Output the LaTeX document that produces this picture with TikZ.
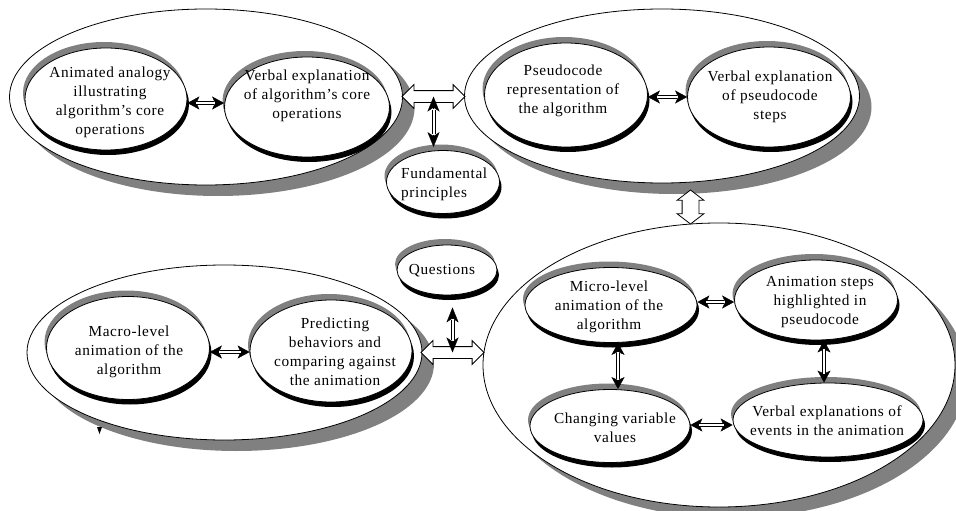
\documentclass[tikz,border=0pt]{standalone}
\usepackage{fontspec}
\setmainfont{Liberation Serif}[LetterSpace=4]
\usetikzlibrary{shapes.geometric,shapes.arrows,shadows,arrows.meta,calc}
\definecolor{shgray}{RGB}{128,128,128}
\begin{document}
\begin{tikzpicture}[x=1pt,y=-1pt,
  outer/.style={ellipse, draw, fill=white, line width=0.8pt, inner sep=0pt,
    general shadow={fill=shgray, shadow xshift=12pt, shadow yshift=-11pt}},
  inner/.style={ellipse, draw, fill=white, line width=0.8pt, inner sep=0pt,
    general shadow={fill=shgray, shadow xshift=-2pt, shadow yshift=6pt},
    general shadow={fill=black, shadow xshift=2pt, shadow yshift=-5pt}},
  txt/.style={align=center, inner sep=0pt, font=\fontsize{15.3}{19}\selectfont},
  hollow/.style={double arrow, draw, fill=white, line width=0.8pt, inner xsep=0pt,
    double arrow tip angle=90, double arrow head indent=0pt},
  sheads/.style={line width=0.4pt,
    {Stealth[length=12pt,width=13pt,inset=3pt]}-{Stealth[length=12pt,width=13pt,inset=3pt]}},
  bheads/.style={line width=0.4pt,
    {Stealth[length=15pt,width=12pt,inset=4pt]}-{Stealth[length=15pt,width=12pt,inset=4pt]}},
  outshaft/.style={line width=4pt, shorten <=#1, shorten >=#1},
  inshaft/.style={white, line width=2pt, shorten <=#1, shorten >=#1}
]
\useasboundingbox (0,0) rectangle (956,511);

% outer groups
\node[outer, minimum width=393pt, minimum height=176pt] (o1) at (206,97) {};
\node[outer, minimum width=395pt, minimum height=174pt] (o2) at (662,96) {};
\node[outer, minimum width=395pt, minimum height=175pt] (o3) at (224.5,352.5) {};
\node[outer, minimum width=472pt, minimum height=284pt] (o4) at (719,365) {};

% inner ellipses
\node[inner, minimum width=162pt, minimum height=102pt] (aa) at (106,99) {};
\node[inner, minimum width=165pt, minimum height=100pt] (ve) at (307,107) {};
\node[inner, minimum width=163pt, minimum height=104pt] (ps) at (566,95) {};
\node[inner, minimum width=163pt, minimum height=100pt] (vp) at (769,97) {};
\node[inner, minimum width=113pt, minimum height=63pt] (fp) at (443,182) {};
\node[inner, minimum width=100pt, minimum height=50pt] (q) at (447,270) {};
\node[inner, minimum width=163pt, minimum height=103pt] (ma) at (128,348) {};
\node[inner, minimum width=162pt, minimum height=102pt] (pr) at (331,351) {};
\node[inner, minimum width=172pt, minimum height=75pt] (mi) at (611,305) {};
\node[inner, minimum width=163pt, minimum height=80pt] (as) at (816,300) {};
\node[inner, minimum width=160pt, minimum height=73pt] (cv) at (610,426) {};
\node[inner, minimum width=190pt, minimum height=74pt] (ev) at (828,420) {};

% texts
\node[txt] (aat) at (110,102.5) {Animated analogy\\illustrating\\algorithm’s core\\operations};
\node[txt] (vet) at (307,96) {Verbal explanation\\of algorithm’s core\\operations};
\node[txt] (pst) at (563,91) {Pseudocode\\representation of\\the algorithm};
\node[txt] (vpt) at (770,97) {Verbal explanation\\of pseudocode\\steps};
\node[txt, align=left, anchor=west] (fpt) at (401,184) {Fundamental\\principles};
\node[txt] (qt) at (442,271) {Questions};
\node[txt] (mat) at (129,352) {Macro-level\\animation of the\\algorithm};
\node[txt] (prt) at (335,351.5) {Predicting\\behaviors and\\comparing against\\the animation};
\node[txt] (mit) at (609,307) {Micro-level\\animation of the\\algorithm};
\node[txt] (ast) at (820,302) {Animation steps\\highlighted in\\pseudocode};
\node[txt] (cvt) at (615,428) {Changing variable\\values};
\node[txt] (evt) at (827,421) {Verbal explanations of\\events in the animation};

% hollow arrows between groups
\node[hollow, minimum height=63pt, inner ysep=5.5pt, double arrow head extend=6pt]
  (h1) at ($(o1.east)!.5!(o2.west)$) {};
\node[hollow, minimum height=63pt, inner ysep=5.5pt, double arrow head extend=6pt]
  (h2) at ($(o3.east)!.5!(o3.east -| o4.west)$) {};
\node[hollow, rotate=90, minimum height=34pt, inner ysep=8pt, double arrow head extend=5pt,
  double arrow tip angle=105] (h3) at ([yshift=-4pt]$(o2.south)!.5!(o4.north)$) {};

% connectors to side nodes
\coordinate (fpn) at ([yshift=3pt]h1.center |- fp.north);
\draw[bheads] (h1.center) -- (fpn);
\draw[outshaft=13pt] (h1.center) -- (fpn);
\draw[inshaft=12pt] (h1.center) -- (fpn);
\coordinate (qs) at ([yshift=-12pt]q.south);
\coordinate (qa) at (qs -| h2.center);
\draw[bheads] (qa) -- (h2.center);
\draw[outshaft=13pt] (qa) -- (h2.center);
\draw[inshaft=12pt] (qa) -- (h2.center);

% small arrow end points
\coordinate (a1) at ([yshift=-4pt]aa.east);  \coordinate (b1) at (a1 -| ve.west);
\coordinate (a2) at ([yshift=-2pt]ps.east);  \coordinate (b2) at (a2 -| vp.west);
\coordinate (a3) at ([yshift=-4pt]ma.east);  \coordinate (b3) at (a3 -| pr.west);
\coordinate (a4) at ([yshift=3pt]mi.east);   \coordinate (b4) at (a4 -| as.west);
\coordinate (a5) at ([yshift=1pt]cv.east);   \coordinate (b5) at (a5 -| ev.west);
\coordinate (a6) at ([xshift=7pt]mi.south);  \coordinate (b6) at (a6 |- cv.north);
\coordinate (a7) at ([xshift=8pt]as.south);  \coordinate (b7) at (a7 |- ev.north);
\foreach \i in {1,...,7}{
  \draw[sheads] (a\i) -- (b\i);
  \draw[outshaft=10pt] (a\i) -- (b\i);
  \draw[inshaft=9pt] (a\i) -- (b\i);
}

% stray mark
\fill (97,427) -- (102,427) -- (99.5,434) -- cycle;
\end{tikzpicture}
\end{document}
